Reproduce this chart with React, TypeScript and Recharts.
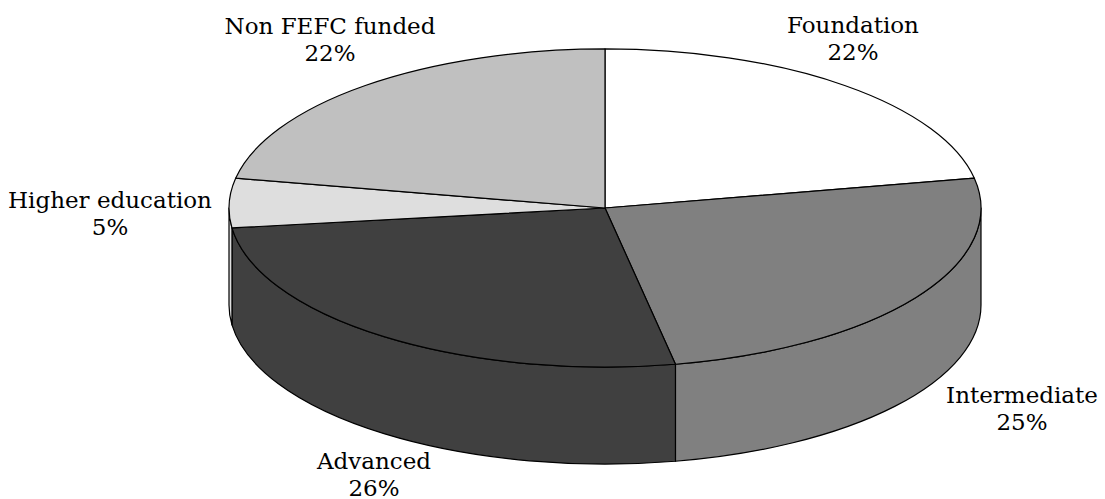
import { PieChart, Pie } from 'recharts';

const categories = ['Foundation', 'Intermediate', 'Advanced', 'Higher education', 'Non FEFC funded'];
const shares = [22, 25, 26, 5, 22];
const sliceColors = ['#ffffff', '#808080', '#404040', '#dedede', '#c0c0c0'];

// where each two-line caption sits around the disc (first baseline)
const captionX = [853, 1022, 374, 110, 330];
const captionY = [33, 403, 469, 208, 34];

const WIDTH = 1105;
const HEIGHT = 499;
const TILT = 0.423; // vertical squash of the disc
const DEPTH = 97; // height of the side wall

const RAD = Math.PI / 180;

const data = categories.map((name, i) => ({ name, value: shares[i], fill: sliceColors[i] }));

function pointOn(cx: number, cy: number, r: number, deg: number) {
  return [cx + r * Math.cos(deg * RAD), cy - r * TILT * Math.sin(deg * RAD)];
}

// Slice lying on the tilted disc
function TopSlice(props: any) {
  const { cx, cy, outerRadius: r, startAngle, endAngle, fill } = props;
  const [x0, y0] = pointOn(cx, cy, r, startAngle);
  const [x1, y1] = pointOn(cx, cy, r, endAngle);
  const large = Math.abs(startAngle - endAngle) > 180 ? 1 : 0;
  const d = `M${cx},${cy}L${x0},${y0}A${r},${r * TILT} 0 ${large} 1 ${x1},${y1}Z`;
  return <path d={d} fill={fill} stroke="#000" strokeWidth={1.2} strokeLinejoin="round" />;
}

// Front wall under a slice, only the part facing the viewer (angles -180..0)
function WallSlice(props: any) {
  const { cx, cy, outerRadius: r, startAngle, endAngle, fill } = props;
  const a = Math.min(startAngle, 0);
  const b = Math.max(endAngle, -180);
  if (a <= b) return null;
  const [x0, y0] = pointOn(cx, cy, r, a);
  const [x1, y1] = pointOn(cx, cy, r, b);
  const d =
    `M${x0},${y0}A${r},${r * TILT} 0 0 1 ${x1},${y1}` +
    `L${x1},${y1 + DEPTH}A${r},${r * TILT} 0 0 0 ${x0},${y0 + DEPTH}Z`;
  return <path d={d} fill={fill} stroke="#000" strokeWidth={1.2} strokeLinejoin="round" />;
}

function Caption({ index }: any) {
  const x = captionX[index];
  const y = captionY[index];
  return (
    <text x={x} y={y} textAnchor="middle" fontFamily="'DejaVu Serif'" fontSize={23} fill="#000">
      <tspan x={x}>{categories[index]}</tspan>
      <tspan x={x} dy={26.5}>{`${shares[index]}%`}</tspan>
    </text>
  );
}

export default function App() {
  return (
    <div style={{ position: 'absolute', left: 0, top: 0 }}>
      <PieChart width={WIDTH} height={HEIGHT} margin={{ top: 0, right: 0, bottom: 0, left: 0 }}>
        <Pie
          data={data}
          dataKey="value"
          cx={605}
          cy={208}
          outerRadius={376}
          startAngle={90}
          endAngle={-270}
          shape={WallSlice}
          label={false}
          labelLine={false}
          isAnimationActive={false}
        />
        <Pie
          data={data}
          dataKey="value"
          cx={605}
          cy={208}
          outerRadius={376}
          startAngle={90}
          endAngle={-270}
          shape={TopSlice}
          label={Caption}
          labelLine={false}
          isAnimationActive={false}
        />
      </PieChart>
    </div>
  );
}
